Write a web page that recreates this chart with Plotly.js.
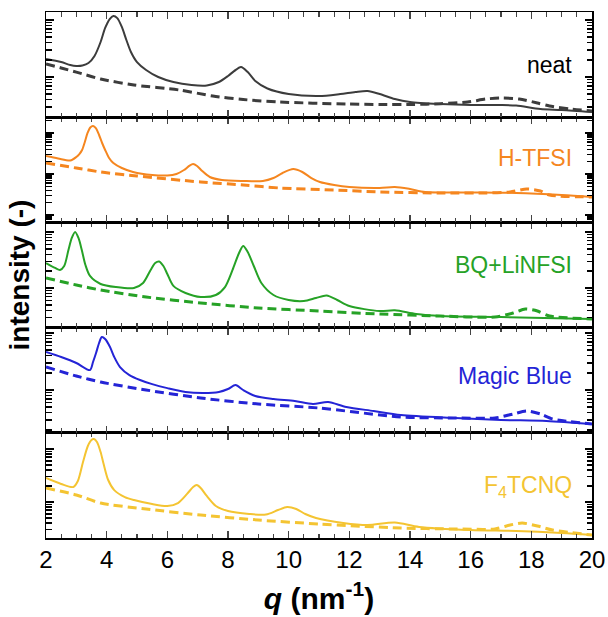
<!DOCTYPE html>
<html>
<head>
<meta charset="utf-8">
<script src="https://cdn.plot.ly/plotly-3.0.1.min.js"></script>
<style>html,body{margin:0;padding:0;background:#fff}#chart{width:608px;height:617px}</style>
</head>
<body>
<div id="chart"></div>
<script>
// ---- data (q in nm^-1, intensity in arbitrary units, log scale) ----
const qNeatS = [2.0,2.5,2.8,3.0,3.2,3.4,3.6,3.8,3.95,4.1,4.22,4.35,4.5,4.65,4.8,5.0,5.3,5.7,6.2,6.8,7.3,7.7,8.0,8.2,8.43,8.65,8.9,9.3,10.0,11.0,11.7,12.2,12.6,13.0,13.5,14.0,15.0,16.0,17.0,17.5,18.3,19.0,20.0];
const iNeatS = [2.07,1.83,1.62,1.56,1.59,1.76,2.34,4.11,7.24,10.4,11.75,10.8,7.54,4.46,2.75,1.83,1.33,1.0,0.817,0.724,0.71,0.817,1.04,1.27,1.50,1.22,0.851,0.629,0.503,0.464,0.503,0.546,0.568,0.503,0.411,0.364,0.336,0.323,0.323,0.316,0.275,0.264,0.243];
const qNeatD = [2.0,2.5,3.0,3.8,4.9,6.4,7.5,8.5,9.7,11.9,13.0,14.1,15.0,15.9,16.5,17.0,17.6,18.2,18.6,19.3,20.0];
const iNeatD = [1.69,1.44,1.22,0.923,0.724,0.591,0.464,0.403,0.364,0.336,0.330,0.330,0.340,0.364,0.411,0.428,0.411,0.350,0.310,0.275,0.253];

const qHS = [2.0,2.4,2.8,3.0,3.1,3.19,3.28,3.37,3.46,3.55,3.65,3.75,3.85,3.95,4.08,4.22,4.5,4.87,5.5,6.0,6.3,6.55,6.72,6.85,6.98,7.15,7.4,7.8,8.5,9.15,9.5,9.8,10.15,10.45,10.75,11.03,11.5,12.0,13.0,13.5,14.0,14.5,16.0,17.5,19.0,20.0];
const iHS = [2.75,2.39,2.13,2.60,3.07,3.85,6.03,10.0,13.6,14.8,12.9,8.93,5.70,3.85,2.46,1.85,1.40,1.12,0.945,0.92,1.0,1.25,1.57,1.75,1.57,1.18,0.845,0.714,0.675,0.675,0.798,1.06,1.32,1.12,0.798,0.638,0.539,0.482,0.456,0.482,0.431,0.364,0.355,0.344,0.307,0.275];
const qHD = [2.0,3.0,3.8,5.0,7.1,8.5,9.7,11.5,13.0,15.0,16.5,17.3,17.85,18.3,18.6,20.0];
const iHD = [1.85,1.40,1.12,0.894,0.638,0.539,0.456,0.407,0.364,0.344,0.344,0.364,0.431,0.385,0.307,0.275];

const qBS = [2.0,2.3,2.46,2.6,2.74,2.85,2.96,3.07,3.18,3.3,3.45,3.8,4.3,4.9,5.2,5.45,5.6,5.73,5.87,6.0,6.2,6.6,7.1,7.6,7.9,8.15,8.35,8.5,8.65,8.85,9.1,9.5,10.0,10.5,10.9,11.25,11.6,12.0,13.0,13.5,14.2,15.0,17.0,20.0];
const iBS = [2.79,2.28,2.10,2.47,4.77,7.81,10.0,7.81,4.77,2.57,1.64,1.18,1.04,1.0,1.23,2.10,2.79,2.97,2.47,1.78,1.09,0.814,0.691,0.750,1.04,2.10,4.05,5.62,4.39,2.47,1.23,0.750,0.611,0.586,0.663,0.735,0.611,0.477,0.388,0.40,0.343,0.316,0.303,0.279];
const qBD = [2.0,3.0,3.8,5.3,7.1,9.0,11.0,13.0,15.0,16.8,17.4,17.8,18.2,18.6,20.0];
const iBD = [1.51,1.13,0.921,0.691,0.540,0.440,0.388,0.343,0.316,0.303,0.358,0.422,0.388,0.316,0.279];

const qMS = [2.0,2.5,3.0,3.45,3.55,3.65,3.75,3.84,3.95,4.11,4.25,4.44,4.75,5.1,5.5,6.0,6.6,7.2,7.7,8.0,8.25,8.5,8.9,9.5,10.2,10.8,11.3,11.9,12.8,13.7,15.5,17.0,18.5,20.0];
const iMS = [4.64,3.79,2.98,2.24,3.10,4.46,6.68,8.51,7.85,5.68,3.79,2.53,1.83,1.50,1.27,1.08,0.923,0.886,0.923,1.04,1.22,1.0,0.785,0.695,0.641,0.568,0.616,0.503,0.428,0.364,0.323,0.298,0.286,0.253];
const qMD = [2.0,3.0,3.8,5.3,7.1,9.0,11.0,13.7,15.5,16.8,17.4,17.85,18.3,18.7,20.0];
const iMD = [2.53,1.76,1.38,1.0,0.724,0.568,0.483,0.336,0.323,0.323,0.379,0.428,0.379,0.310,0.253];

const qFS = [2.0,2.5,2.9,3.05,3.22,3.38,3.5,3.58,3.68,3.8,3.9,4.05,4.25,4.6,4.9,5.5,6.0,6.35,6.65,6.85,6.97,7.1,7.3,7.6,8.0,8.7,9.25,9.65,9.95,10.25,10.55,10.9,11.8,12.6,13.5,14.3,16.0,17.5,19.0,20.0];
const iFS = [2.84,2.19,1.92,2.49,5.69,11.4,14.8,15.4,13.6,8.78,5.21,2.60,1.68,1.24,1.09,0.917,0.841,0.957,1.42,1.92,2.09,1.84,1.30,0.841,0.676,0.594,0.58,0.706,0.805,0.738,0.594,0.499,0.402,0.368,0.410,0.338,0.296,0.284,0.260,0.238];
const qFD = [2.0,3.0,3.8,5.3,7.1,9.0,11.0,13.7,15.5,16.8,17.3,17.7,18.2,18.7,20.0];
const iFD = [1.84,1.36,0.957,0.738,0.569,0.457,0.385,0.323,0.310,0.310,0.368,0.402,0.353,0.296,0.238];

const sampleNames = ['neat','H-TFSI','BQ+LiNFSI','Magic Blue','F<sub>4</sub>TCNQ'];
const sampleColors = ['#3c3c3c','#f5861f','#26a226','#2424d6','#f4c432'];
const xTickVals = [2,4,6,8,10,12,14,16,18,20];

// ---- build ----
const panels = [
  {s:[qNeatS,iNeatS], d:[qNeatD,iNeatD], range:[-0.705,1.140]},
  {s:[qHS,iHS], d:[qHD,iHD], range:[-1.180,1.385]},
  {s:[qBS,iBS], d:[qBD,iBD], range:[-0.707,1.171]},
  {s:[qMS,iMS], d:[qMD,iMD], range:[-0.751,1.095]},
  {s:[qFS,iFS], d:[qFD,iFD], range:[-0.679,1.306]}
];

const font = 'Arial, "Liberation Sans", sans-serif';
const traces = [];
const layout = {
  width:608, height:617,
  margin:{l:46, r:16, t:12, b:79},
  paper_bgcolor:'#fff', plot_bgcolor:'#fff',
  showlegend:false,
  font:{family:font, color:'#000'},
  annotations:[]
};
const annY = [0.899,0.722,0.519,0.308,0.097];
panels.forEach((p,i)=>{
  const n = 5 - i;              // axis index: bottom panel = 1
  const xs = n===1 ? 'x' : 'x'+n;
  const ys = n===1 ? 'y' : 'y'+n;
  const yo = 'y' + (n+5);       // overlay axis carrying the digit (minor) ticks
  const col = sampleColors[i];
  traces.push({x:p.d[0], y:p.d[1], xaxis:xs, yaxis:ys, mode:'lines',
    line:{color:col, width:3, dash:'9px,5px', shape:'spline', smoothing:0.7}, hoverinfo:'skip'});
  traces.push({x:p.s[0], y:p.s[1], xaxis:xs, yaxis:ys, mode:'lines',
    line:{color:col, width:2, shape:'spline', smoothing:0.8}, hoverinfo:'skip'});
  traces.push({x:[null], y:[null], xaxis:xs, yaxis:yo, mode:'lines', hoverinfo:'skip', showlegend:false});
  const xa = {
    anchor: ys, range:[2,20], tickvals:xTickVals, ticks:'inside', ticklen:7, tickwidth:1.3,
    showline:true, linecolor:'#000', linewidth:1.5, mirror:'ticks', showgrid:false, zeroline:false,
    minor:{dtick:0.5, tick0:2, ticks:'inside', ticklen:4.5, tickwidth:1.3, showgrid:false},
    showticklabels: n===1,
    tickfont:{size:24, family:font, color:'#000'}
  };
  if(n!==1){ xa.matches='x'; }
  else {
    xa.title = {text:'<b><i>q</i> (nm<sup>-1</sup>)</b>', font:{size:30, family:font, color:'#000'}, standoff:15};
  }
  const ya = {
    domain:[(n-1)*0.2, n*0.2], anchor: xs, type:'log', range:p.range,
    tickmode:'linear', tick0:0, dtick:1, ticks:'inside', ticklen:7.5, tickwidth:1.3, tickcolor:'#000',
    showticklabels:false, showline:true, linecolor:'#000', linewidth:1.5, mirror:'ticks',
    showgrid:false, zeroline:false
  };
  if(n===3){
    ya.title = {text:'<b>intensity (-)</b>', font:{size:28, family:font, color:'#000'}, standoff:6};
  }
  const yov = {
    overlaying: ys, anchor: xs, type:'log', range:p.range,
    tickmode:'linear', tick0:0, dtick:'D1', ticks:'inside', ticklen:5.5, tickwidth:1.5, tickcolor:'#000',
    showticklabels:false, showline:false, mirror:'ticks', showgrid:false, zeroline:false, side:'left'
  };
  layout[n===1 ? 'xaxis' : 'xaxis'+n] = xa;
  layout[n===1 ? 'yaxis' : 'yaxis'+n] = ya;
  layout['yaxis'+(n+5)] = yov;
  layout.annotations.push({text:sampleNames[i], xref:'paper', yref:'paper', x:0.967, y:annY[i],
    xanchor:'right', yanchor:'middle', showarrow:false, font:{size:23, family:font, color: i===0 ? '#000' : col}});
});
Plotly.newPlot('chart', traces, layout, {staticPlot:true, displayModeBar:false});
</script>
</body>
</html>
